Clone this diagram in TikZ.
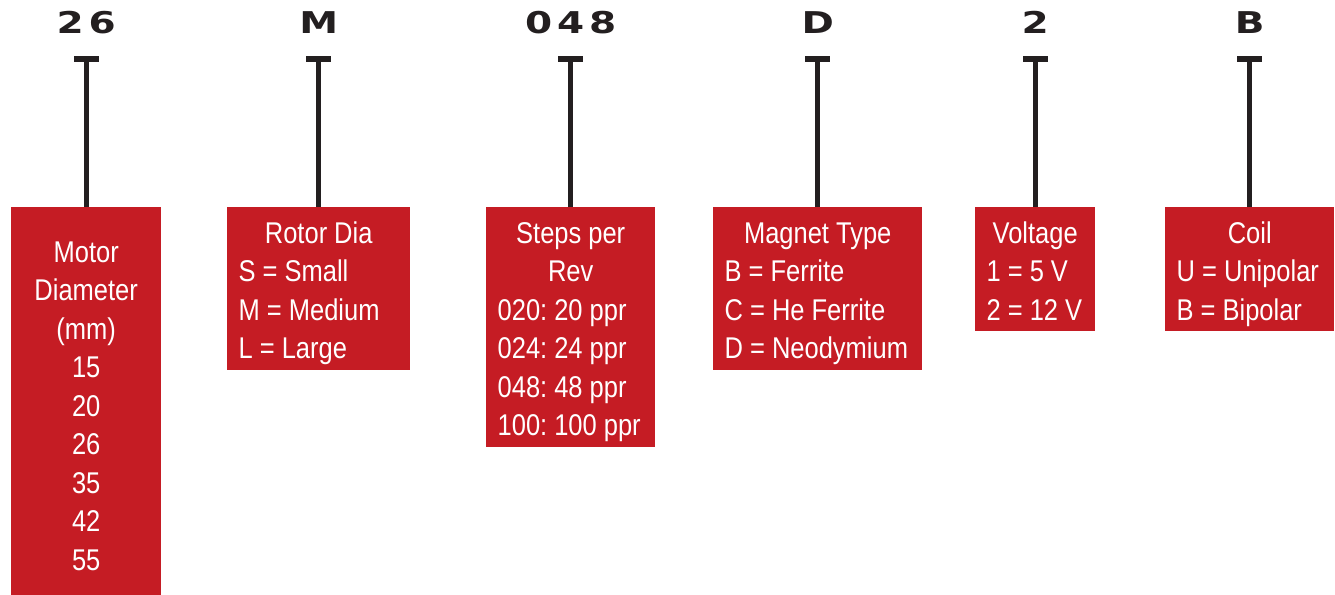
\documentclass[tikz,border=0pt]{standalone}
\usepackage{fontspec}
\usetikzlibrary{arrows.meta}
\newfontfamily\boxfont{Liberation Sans}[FakeStretch=0.85]
\newfontfamily\codefont{DejaVu Sans}[FakeStretch=1.3,LetterSpace=16]
\definecolor{pnred}{RGB}{197,28,36}
\definecolor{stemblack}{RGB}{35,31,32}
\newcommand\boxtype{\boxfont\fontsize{30}{38.5}\selectfont}
\newcommand\tightsp{\frenchspacing\spaceskip=7pt plus 1pt minus 1pt\relax\xspaceskip=7pt\relax}
\newcommand\firstrule{\rule{0pt}{36pt}}
\newcommand\lastrule{\rule[-11pt]{0pt}{11pt}}
\newcommand\ttl[1]{\makebox[\linewidth][c]{\tightsp #1}}
\newcommand\lft[1]{\makebox[\linewidth][l]{\tightsp #1}}
\begin{document}
\begin{tikzpicture}[x=1pt,y=-1pt,
  codelabel/.style={font=\codefont\bfseries\fontsize{30}{30}\selectfont, text=stemblack, anchor=base, inner sep=0pt},
  infobox/.style={fill=pnred, text=white, anchor=north west, inner ysep=0pt, inner xsep=11.5pt, align=left, font=\boxtype},
  stemline/.style={draw=stemblack, line width=5pt, -{Rectangle[length=6pt,width=25pt]}}]
\clip (0,0) rectangle (1335,594);
\fill[white] (0,0) rectangle (1335,594);
% boxes
\node[infobox, align=center, inner xsep=0pt, text width=150pt] (b1) at (11,207)
  {\rule{0pt}{55pt}Motor\\Diameter\\(mm)\\15\\20\\26\\35\\42\\55\rule[-30pt]{0pt}{30pt}};
\node[infobox, text width=160pt] (b2) at (227,207)
  {\ttl{\firstrule Rotor Dia}\\\lft{S = Small}\\\lft{M = Medium}\\\lft{L = Large\lastrule}};
\node[infobox, text width=146pt] (b3) at (486,207)
  {\ttl{\firstrule Steps per}\\\ttl{Rev}\\\lft{020: 20 ppr}\\\lft{024: 24 ppr}\\\lft{048: 48 ppr}\\\lft{100: 100 ppr\lastrule}};
\node[infobox, text width=186pt] (b4) at (713,207)
  {\ttl{\firstrule Magnet Type}\\\lft{B = Ferrite}\\\lft{C = He Ferrite}\\\lft{D = Neodymium\lastrule}};
\node[infobox, text width=97pt] (b5) at (975,207)
  {\ttl{\firstrule Voltage}\\\lft{1 = 5 V}\\\lft{2 = 12 V\lastrule}};
\node[infobox, text width=146pt] (b6) at (1165,207)
  {\ttl{\firstrule Coil}\\\lft{U = Unipolar}\\\lft{B = Bipolar\lastrule}};
% code letters
\node[codelabel] (l1) at (b1.north |- 0,34) {26};
\node[codelabel] (l2) at (b2.north |- 0,34) {M};
\node[codelabel] (l3) at (b3.north |- 0,34) {048};
\node[codelabel] (l4) at (b4.north |- 0,34) {D};
\node[codelabel] (l5) at (b5.north |- 0,34) {2};
\node[codelabel] (l6) at (b6.north |- 0,34) {B};
% stems with T-bars
\foreach \i in {1,...,6} {
  \coordinate (t\i) at (b\i.north |- 0,56);
  \draw[stemline] (b\i.north) -- (t\i);
}
\end{tikzpicture}
\end{document}
